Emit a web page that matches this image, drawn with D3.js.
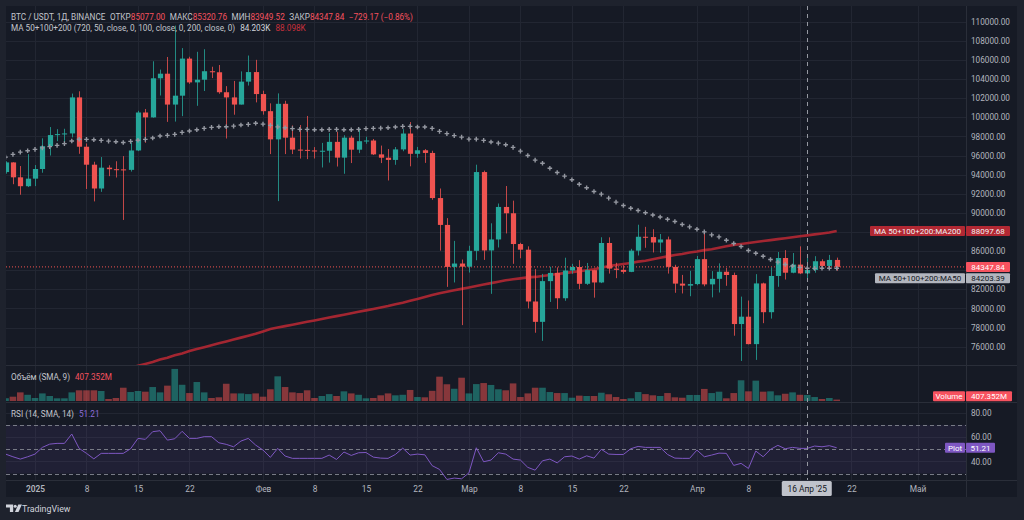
<!DOCTYPE html>
<html>
<head>
<meta charset="utf-8">
<script src="https://cdn.jsdelivr.net/npm/d3@7"></script>
<style>
  html, body { margin: 0; padding: 0; background: #1e222d; }
  svg { display: block; font-family: Roboto, "Noto Sans", sans-serif; }
</style>
</head>
<body>
<svg id="chart" width="1024" height="520"></svg>
<script>
// daily candles, 28 Dec 2024 .. 20 Apr 2025
const firstDay = '2024-12-28';
const lastDay = '2025-04-20';

const opens = [94270, 95280, 93720, 92790,
  93580, 94590, 96980, 98140, 98240, 98310, 102080, 96920, 95040, 92550, 94730, 94570, 94550, 94500, 96530, 100500,
  99990, 104080, 104560, 101330, 102260, 106140, 103650, 103930, 104820, 104710, 102620, 102080, 101330, 103730, 104730,
  102430, 100640, 97690, 101410, 97870, 96620, 96590, 96530, 96480, 96500, 97430, 95780, 97870, 96610, 97500, 97570,
  96120, 95770, 95540, 96640, 98300, 96180, 96550, 96270, 91550, 88740, 84350, 84700,
  84370, 86030, 94270, 86070, 87220, 90620, 89960, 86740, 86150, 80730, 78600, 82860, 83720, 81070, 83970, 84340,
  82580, 84010, 82720, 86850, 84170, 84040, 83830, 86050, 87500, 87470, 86900, 87220, 84350, 82600, 82390,
  82550, 85160, 82520, 83100, 83840, 83500, 78370, 79140, 76270, 82620, 79610, 83400, 85280, 83740, 84590, 83670,
  84030, 84940, 84450, 85077];

const highs = [95400, 95300, 94900, 96150,
  95000, 97800, 98980, 98760, 98800, 102480, 102720, 97260, 95350, 95840, 94980, 95400, 95940, 97370, 100680, 100870,
  105860, 104990, 106310, 109590, 107240, 106330, 106850, 107120, 105290, 105470, 103260, 103800, 104800, 106460, 106010,
  102780, 101460, 102500, 101730, 99150, 99190, 100140, 96880, 97320, 98350, 98480, 98120, 98080, 98830, 97970, 97730,
  97040, 96680, 96890, 98760, 99500, 96900, 96670, 96500, 92550, 89450, 87070, 85120,
  86560, 95040, 94420, 88910, 90980, 92810, 91280, 86870, 86500, 84120, 83620, 84360, 84300, 85310, 84670, 85050,
  84760, 84050, 87450, 87440, 84780, 84520, 86240, 88760, 88540, 88290, 87790, 87520, 84570, 83510, 83940,
  85490, 88100, 83910, 84720, 84230, 83750, 81240, 80830, 83590, 82700, 84300, 85910, 86100, 85800, 86500, 85430,
  85470, 85150, 85600, 85320.76];

const lows = [94100, 93000, 91900, 92700,
  92800, 94200, 96000, 97500, 97270, 97900, 96180, 92500, 91200, 92200, 93840, 93700, 89260, 94320, 96460, 97330,
  99950, 102280, 99520, 99550, 100120, 103500, 101200, 102750, 104100, 102460, 97780, 100270, 101330, 103320, 101560,
  100280, 96150, 91230, 96150, 96150, 95680, 95620, 95690, 94750, 95260, 94850, 94090, 95210, 96250, 97230, 96050,
  95210, 93390, 95030, 96450, 94870, 95770, 95230, 91370, 86050, 82260, 82720, 78260,
  83760, 85040, 85080, 81530, 86380, 87850, 84670, 85250, 80000, 77460, 76610, 80680, 79940, 80800, 83630, 82020,
  82460, 81130, 82650, 83650, 83170, 83640, 83800, 85540, 86350, 85860, 85840, 83650, 81640, 81570, 81280,
  82430, 82320, 81160, 81670, 82370, 77150, 74510, 76240, 74620, 78460, 78940, 82270, 83030, 83680, 83600, 83110,
  83740, 84240, 84330, 83949.52];

const closes = [95280, 93720, 92790, 93580,
  94590, 96980, 98140, 98240, 98310, 102080, 96920, 95040, 92550, 94730, 94570, 94550, 94500, 96530, 100500, 99990,
  104080, 104560, 101330, 102260, 106140, 103650, 103930, 104820, 104710, 102620, 102080, 101330, 103730, 104730, 102430,
  100640, 97690, 101410, 97870, 96620, 96590, 96530, 96480, 96500, 97430, 95780, 97870, 96610, 97500, 97570, 96120,
  95770, 95540, 96640, 98300, 96180, 96550, 96270, 91550, 88740, 84350, 84700, 84370,
  86030, 94270, 86070, 87220, 90620, 89960, 86740, 86150, 80730, 78600, 82860, 83720, 81070, 83970, 84340, 82580,
  84010, 82720, 86850, 84170, 84040, 83830, 86050, 87500, 87470, 86900, 87220, 84350, 82600, 82390, 82550,
  85160, 82520, 83100, 83840, 83500, 78370, 79140, 76270, 82620, 79610, 83400, 85280, 83740, 84590, 83670, 84030,
  84940, 84450, 85077, 84347.84];

// last bar change as shown in the legend
const lastChange = -729.17;
const lastChangePct = -0.86;

// volume, billions USDT
const volumeB = [0.8, 1.25, 2.5, 1.8,
  0.87, 2.2, 1.45, 0.78, 0.78, 2.5, 3.1, 3.1, 3.1, 2.9, 0.58, 0.87, 3.85, 2.6, 2.9, 2.7,
  4.05, 2.5, 4.45, 9.3, 4.7, 2.3, 5.5, 2.5, 0.87, 1.07, 5.0, 2.2, 2.2, 2.0, 2.2,
  1.25, 3.4, 7.15, 4.05, 2.5, 2.3, 3.1, 0.87, 1.45, 2.0, 1.45, 2.8, 2.2, 1.8, 0.78, 0.87,
  1.65, 2.2, 1.65, 1.8, 3.2, 1.15, 1.07, 2.95, 7.05, 4.85, 3.55, 6.75,
  2.2, 4.9, 5.2, 4.65, 3.4, 3.1, 5.1, 1.15, 2.2, 3.85, 3.85, 2.6, 2.3, 2.3, 0.95, 1.55,
  1.45, 1.45, 2.4, 1.95, 1.15, 0.58, 0.78, 2.6, 2.0, 1.65, 1.45, 2.3, 1.07, 0.95, 1.75,
  1.75, 3.5, 2.3, 2.7, 0.78, 2.3, 6.0, 2.8, 5.9, 2.7, 2.8, 1.65, 2.1, 2.5, 1.8, 1.75,
  1.15, 0.58, 0.87, 0.407];
const volumeLast = '407.352M';

const ma50 = [95830, 96120, 96360, 96500,
  96640, 96800, 96930, 97060, 97240, 97520, 97700, 97690, 97650, 97580, 97510, 97440, 97370, 97480, 97600, 97690,
  97830, 98040, 98110, 98210, 98420, 98560, 98700, 98840, 98940, 99010, 99010, 99080, 99190, 99260, 99370,
  99290, 99150, 99000, 98900, 98810, 98740, 98740, 98700, 98700, 98740, 98740, 98700, 98700, 98740, 98810, 98840,
  98870, 98910, 98980, 99050, 99050, 98980, 98980, 98840, 98530, 98290, 98080, 97930,
  97720, 97720, 97580, 97410, 97300, 97130, 96850, 96460, 96010, 95520, 95190, 94670, 94230, 93840, 93470, 93000,
  92630, 92240, 91960, 91540, 91120, 90770, 90490, 90250, 90020, 89780, 89570, 89340, 89100, 88780, 88540,
  88290, 88010, 87700, 87490, 87140, 86790, 86480, 86060, 85780, 85460, 85120, 84850, 84600, 84450, 84300, 84200,
  84190, 84200, 84200, 84203.39];

const ma200 = [null, null, null, null,
  null, null, null, null, null, null, null, null, null, null, null, null, 73600, 73800, 74000, 74200,
  74400, 74650, 74850, 75100, 75300, 75550, 75750, 75950, 76150, 76350, 76550, 76750, 76950, 77150, 77350,
  77600, 77850, 78000, 78150, 78300, 78450, 78600, 78750, 78900, 79050, 79200, 79350, 79500, 79650, 79800, 79950,
  80100, 80250, 80450, 80600, 80800, 81000, 81200, 81400, 81600, 81750, 81900, 82050,
  82200, 82350, 82500, 82650, 82800, 82950, 83050, 83150, 83250, 83300, 83400, 83500, 83600, 83700, 83800, 83900,
  84000, 84100, 84250, 84450, 84550, 84650, 84750, 84900, 85000, 85150, 85300, 85450, 85600, 85700, 85850,
  85950, 86100, 86200, 86350, 86500, 86650, 86750, 86850, 86950, 87050, 87150, 87250, 87350, 87450, 87550, 87650,
  87750, 87850, 87950, 88097.68];

const rsi = [46.0, 43.8, 41.9, 43.8,
  46.0, 51.5, 54.2, 54.8, 54.8, 62.5, 50.7, 46.6, 42.1, 46.6, 46.6, 46.6, 46.6, 50.4, 58.9, 58.1,
  64.4, 65.2, 57.5, 58.6, 64.7, 58.9, 58.9, 60.3, 60.3, 55.3, 54.0, 52.0, 56.7, 58.9, 53.4,
  49.3, 43.3, 50.7, 44.4, 42.5, 42.5, 42.5, 42.5, 42.5, 45.2, 41.6, 47.7, 44.9, 47.1, 47.3, 43.5,
  42.7, 42.5, 45.7, 50.9, 45.2, 46.0, 45.4, 36.5, 33.4, 25.2, 26.3, 25.7,
  30.6, 51.2, 39.7, 41.1, 47.1, 46.0, 41.9, 41.1, 35.1, 32.8, 40.5, 41.9, 38.8, 43.8, 44.4, 41.9,
  44.6, 42.7, 49.9, 46.0, 45.7, 45.7, 50.4, 52.3, 51.5, 51.5, 51.5, 45.7, 42.7, 42.5, 42.5,
  49.3, 43.8, 45.2, 46.8, 46.6, 36.7, 38.4, 34.2, 48.5, 43.8, 49.9, 53.2, 50.4, 51.5, 50.7, 50.7,
  52.6, 52.0, 52.9, 51.21];

const priceTicks = [76000, 78000, 80000, 82000, 84000, 86000, 88000, 90000, 92000, 94000, 96000, 98000,
  100000, 102000, 104000, 106000, 108000, 110000];
// these two tick labels sit under the price tags, so only their grid lines show
const hiddenPriceLabels = [84000, 88000];
const rsiTicks = [40, 60, 80];
const rsiLevels = [70, 50, 30];
// grid lines fall on every tick; the 15 Apr label sits under the crosshair box, so it has no text
const timeTicks = ['2025-01-01', '2025-01-08', '2025-01-15', '2025-01-22', '2025-02-01', '2025-02-08', '2025-02-15',
  '2025-02-22', '2025-03-01', '2025-03-08', '2025-03-15', '2025-03-22', '2025-04-01', '2025-04-08', '2025-04-15',
  '2025-04-22', '2025-05-01'];
const timeLabels = ['2025', '8', '15', '22', 'Фев', '8', '15', '22', 'Мар', '8', '15', '22', 'Апр', '8', null, '22', 'Май'];
const crossDay = '2025-04-16';
const crossLabel = "16 Апр '25";

const parse = d3.utcParse('%Y-%m-%d');
const days = d3.utcDay.range(parse(firstDay), d3.utcDay.offset(parse(lastDay), 1));
const candles = days.map((d, i) => ({
  date: d, o: opens[i], h: highs[i], l: lows[i], c: closes[i],
  v: volumeB[i], ma50: ma50[i], ma200: ma200[i], rsi: rsi[i]
}));

const up = '#26a69a', down = '#ef5350';
const left = 6, right = 966, axisRight = 1017;
const mainTop = 6, mainBottom = 365, volBottom = 402, rsiBottom = 480, timeBottom = 497;

const x = d3.scaleUtc()
  .domain([parse('2025-01-01'), parse('2025-05-01')])
  .range([35, 917.6]);
const y = d3.scaleLinear().domain([76000, 110000]).range([346.7, 21.7]);
const yV = d3.scaleLinear().domain([0, 10]).range([401, 366.5]);
const yR = d3.scaleLinear().domain([40, 80]).range([461.4, 412.7]);

const svg = d3.select('#chart');

svg.append('rect').attr('width', 1024).attr('height', 520).attr('fill', '#1e222d');
svg.append('rect')
  .attr('x', left).attr('y', mainTop)
  .attr('width', axisRight - left).attr('height', timeBottom - mainTop)
  .attr('fill', '#161a25');

const defs = svg.append('defs');
[['clipMain', mainTop, mainBottom], ['clipVol', mainBottom, volBottom], ['clipRsi', volBottom, rsiBottom]]
  .forEach(([id, t, b]) => {
    defs.append('clipPath').attr('id', id)
      .append('rect').attr('x', left).attr('y', t).attr('width', right - left).attr('height', b - t);
  });
defs.append('clipPath').attr('id', 'clipVolAxis')
  .append('rect').attr('x', right).attr('y', mainBottom + 1).attr('width', 60).attr('height', volBottom - mainBottom);

// grid
const grid = svg.append('g').attr('stroke', '#222632').attr('stroke-width', 1);
grid.selectAll('.hg').data(priceTicks).join('line')
  .attr('x1', left).attr('x2', right)
  .attr('y1', d => Math.round(y(d)) + 0.5).attr('y2', d => Math.round(y(d)) + 0.5);
grid.selectAll('.rg').data(rsiTicks).join('line')
  .attr('x1', left).attr('x2', right)
  .attr('y1', d => Math.round(yR(d)) + 0.5).attr('y2', d => Math.round(yR(d)) + 0.5);
grid.selectAll('.vg').data(timeTicks).join('line')
  .attr('x1', d => Math.round(x(parse(d))) + 0.5).attr('x2', d => Math.round(x(parse(d))) + 0.5)
  .attr('y1', mainTop).attr('y2', rsiBottom);

// ---- main pane
const main = svg.append('g').attr('clip-path', 'url(#clipMain)');

main.append('path')
  .datum(candles.filter(d => d.ma200 != null))
  .attr('fill', 'none')
  .attr('stroke', '#b22833')
  .attr('stroke-opacity', 0.9)
  .attr('stroke-width', 2.6)
  .attr('d', d3.line().x(d => x(d.date)).y(d => y(d.ma200)));

main.append('line')
  .attr('x1', left).attr('x2', right)
  .attr('y1', y(closes[closes.length - 1])).attr('y2', y(closes[closes.length - 1]))
  .attr('stroke', down).attr('stroke-width', 1).attr('stroke-dasharray', '1,2');

const bw = 5.2;
main.selectAll('.wick').data(candles).join('line')
  .attr('x1', d => Math.round(x(d.date)) + 0.5).attr('x2', d => Math.round(x(d.date)) + 0.5)
  .attr('y1', d => y(d.h)).attr('y2', d => y(d.l))
  .attr('stroke', d => d.c >= d.o ? up : down)
  .attr('stroke-opacity', 0.8);

main.selectAll('.body').data(candles).join('rect')
  .attr('x', d => Math.round(x(d.date)) + 0.5 - bw / 2)
  .attr('y', d => y(Math.max(d.o, d.c)))
  .attr('width', bw)
  .attr('height', d => Math.max(1, Math.abs(y(d.o) - y(d.c))))
  .attr('fill', d => d.c >= d.o ? up : down);

main.selectAll('.ma50').data(candles).join('path')
  .attr('transform', d => `translate(${x(d.date)},${y(d.ma50)})`)
  .attr('d', 'M-2.3,0H2.3M0,-2.3V2.3')
  .attr('stroke', '#9598a1')
  .attr('stroke-width', 1.4);

// ---- volume pane
const vol = svg.append('g').attr('clip-path', 'url(#clipVol)');
vol.selectAll('rect').data(candles).join('rect')
  .attr('x', d => x(d.date) - 3.3)
  .attr('y', d => yV(d.v))
  .attr('width', 6.6)
  .attr('height', d => yV(0) - yV(d.v))
  .attr('fill', d => d.c >= d.o ? up : down)
  .attr('fill-opacity', 0.52);

// ---- rsi pane
const rp = svg.append('g').attr('clip-path', 'url(#clipRsi)');
rp.append('rect')
  .attr('x', left).attr('width', right - left)
  .attr('y', yR(70)).attr('height', yR(30) - yR(70))
  .attr('fill', '#7e57c2').attr('fill-opacity', 0.1);
rp.selectAll('.lvl').data(rsiLevels).join('line')
  .attr('x1', left).attr('x2', right)
  .attr('y1', d => Math.round(yR(d)) + 0.5).attr('y2', d => Math.round(yR(d)) + 0.5)
  .attr('stroke', '#787b86').attr('stroke-dasharray', '4,3');
rp.append('path')
  .datum(candles)
  .attr('fill', 'none')
  .attr('stroke', '#7e57c2')
  .attr('stroke-width', 1)
  .attr('d', d3.line().x(d => x(d.date)).y(d => yR(d.rsi)));

// separators
const sep = svg.append('g').attr('stroke', '#2a2e39');
[mainBottom, volBottom, rsiBottom].forEach(v => {
  sep.append('line').attr('x1', left).attr('x2', axisRight).attr('y1', v + 0.5).attr('y2', v + 0.5);
});
sep.append('line').attr('x1', right + 0.5).attr('x2', right + 0.5).attr('y1', mainTop).attr('y2', timeBottom);

// crosshair
svg.append('line')
  .attr('x1', Math.round(x(parse(crossDay))) + 0.5).attr('x2', Math.round(x(parse(crossDay))) + 0.5)
  .attr('y1', mainTop).attr('y2', rsiBottom)
  .attr('stroke', '#9598a1').attr('stroke-dasharray', '4,4');

// ---- axes
const axisText = g => g.call(s => s.select('.domain').remove())
  .selectAll('text').attr('fill', '#b2b5be').style('font-size', '8.2px').style('font-family', 'Roboto, sans-serif');

svg.append('g')
  .attr('transform', `translate(${right},0)`)
  .call(d3.axisRight(y).tickValues(priceTicks.filter(d => !hiddenPriceLabels.includes(d)))
    .tickSize(0).tickPadding(5).tickFormat(d3.format('.2f')))
  .call(axisText);

svg.append('g')
  .attr('transform', `translate(${right},0)`)
  .call(d3.axisRight(yR).tickValues(rsiTicks).tickSize(0).tickPadding(5).tickFormat(d3.format('.2f')))
  .call(axisText);

svg.append('g')
  .attr('clip-path', 'url(#clipVolAxis)')
  .attr('transform', `translate(${right},0)`)
  .call(d3.axisRight(yV).tickValues([10]).tickSize(0).tickPadding(5).tickFormat(d => d + 'B'))
  .call(axisText)
  .selectAll('text').attr('dy', '0.75em');

const labelled = timeTicks.filter((d, i) => timeLabels[i] != null);
const labels = timeLabels.filter(d => d != null);
svg.append('g')
  .attr('transform', `translate(0,${rsiBottom})`)
  .call(d3.axisBottom(x).tickValues(labelled.map(parse)).tickSize(0).tickPadding(6)
    .tickFormat((d, i) => labels[i]))
  .call(axisText)
  .selectAll('text')
  .style('font-size', '8.4px')
  .style('font-weight', (d, i) => i === 0 ? 600 : 400);

// crosshair date box
const cx = x(parse(crossDay));
svg.append('rect').attr('x', cx - 25.5).attr('y', 481).attr('width', 50).attr('height', 15)
  .attr('rx', 1.5).attr('fill', '#c0c3cb');
svg.append('text').attr('x', cx).attr('y', 491.5).attr('text-anchor', 'middle')
  .attr('fill', '#131722').style('font-size', '8.4px').text(crossLabel);

// ---- right-side labels
function tag(x0, x1, yc, fill, color, label) {
  svg.append('rect').attr('x', x0).attr('y', yc - 5).attr('width', x1 - x0).attr('height', 10)
    .attr('rx', 1).attr('fill', fill);
  svg.append('text').attr('x', (x0 + x1) / 2).attr('y', yc + 2.9)
    .attr('text-anchor', 'middle').attr('fill', color).style('font-size', '8px').text(label);
}
const fmt2 = d3.format('.2f');
const yMa200 = y(ma200[ma200.length - 1]);
tag(870, 965, yMa200, '#b22833', '#f0f0f2', 'MA 50+100+200:MA200');
tag(966, 1010, yMa200, '#b22833', '#f0f0f2', fmt2(ma200[ma200.length - 1]));
const yLast = y(closes[closes.length - 1]);
tag(966, 1010, yLast, '#f7525f', '#ffffff', fmt2(closes[closes.length - 1]));
tag(875, 965, yLast + 11.4, '#b2b5be', '#131722', 'MA 50+100+200:MA50');
tag(966, 1010, yLast + 11.4, '#b2b5be', '#131722', fmt2(ma50[ma50.length - 1]));
tag(933, 965, 396.3, '#f7525f', '#ffffff', 'Volume');
tag(966, 1012, 396.3, '#f7525f', '#ffffff', volumeLast);
const yPlot = yR(rsi[rsi.length - 1]);
tag(945, 965, yPlot, '#7e57c2', '#ffffff', 'Plot');
tag(966, 995, yPlot, '#7e57c2', '#ffffff', fmt2(rsi[rsi.length - 1]));

// ---- legends
const gray = '#c2c5cc', red = '#f7525f';
const minus = s => s.replace('-', '−');
const l1 = svg.append('text').attr('x', 11).attr('y', 19.5).style('font-size', '8.2px').attr('fill', gray);
l1.append('tspan').text('BTC / USDT, 1Д, BINANCE');
[['ОТКР', opens], ['МАКС', highs], ['МИН', lows], ['ЗАКР', closes]].forEach(([k, arr]) => {
  l1.append('tspan').attr('dx', 4.5).text(k);
  l1.append('tspan').attr('fill', red).text(fmt2(arr[arr.length - 1]));
});
l1.append('tspan').attr('dx', 4.5).attr('fill', red)
  .text(`${minus(fmt2(lastChange))} (${minus(fmt2(lastChangePct))}%)`);

const l2 = svg.append('text').attr('x', 11).attr('y', 30.5).style('font-size', '8.2px').attr('fill', gray);
l2.append('tspan').text('MA 50+100+200 (720, 50, close, 0, 100, close, 0, 200, close, 0)');
l2.append('tspan').attr('dx', 5).attr('fill', '#d1d4dc').text(d3.format('.3f')(ma50[ma50.length - 1] / 1000) + 'K');
l2.append('tspan').attr('dx', 5).attr('fill', '#c8303c').text(d3.format('.3f')(ma200[ma200.length - 1] / 1000) + 'K');

const l3 = svg.append('text').attr('x', 11).attr('y', 379.5).style('font-size', '8.2px').attr('fill', gray);
l3.append('tspan').text('Объём (SMA, 9)');
l3.append('tspan').attr('dx', 5).attr('fill', red).text(volumeLast);

const l4 = svg.append('text').attr('x', 11).attr('y', 416.5).style('font-size', '8.2px').attr('fill', gray);
l4.append('tspan').text('RSI (14, SMA, 14)');
l4.append('tspan').attr('dx', 5).attr('fill', '#8c6bd6').text(fmt2(rsi[rsi.length - 1]));

// ---- TradingView mark
const logo = svg.append('g').attr('fill', '#d1d4dc');
logo.append('path').attr('d', 'M6,504.5h7.2v7.5h-3.3v-4.6h-3.9z');
logo.append('circle').attr('cx', 15.2).attr('cy', 506.2).attr('r', 1.5);
logo.append('path').attr('d', 'M18.3,504.5h3.6l-3.4,7.5h-3.6z');
svg.append('text').attr('x', 22).attr('y', 511.5).attr('fill', '#d1d4dc')
  .style('font-size', '8.8px').text('TradingView');
</script>
</body>
</html>
